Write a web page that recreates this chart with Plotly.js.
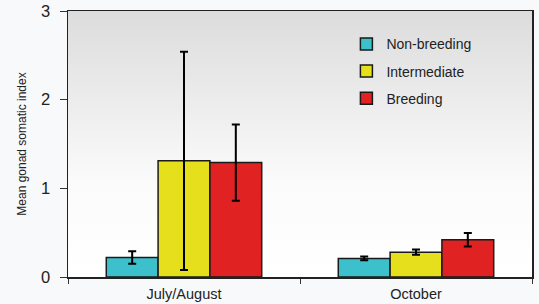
<!DOCTYPE html>
<html>
<head>
<meta charset="utf-8">
<script src="https://cdn.plot.ly/plotly-3.0.1.min.js"></script>
<style>html,body{margin:0;padding:0;background:#f8f9fb;}#chart{width:539px;height:304px;}</style>
</head>
<body>
<div id="chart"></div>
<script>
const categories = ["July/August", "October"];
const seriesNames = ["Non-breeding", "Intermediate", "Breeding"];
const nonBreeding = [0.22, 0.21];
const nonBreedingErr = [0.07, 0.02];
const intermediate = [1.31, 0.28];
const intermediateErr = [1.23, 0.03];
const breeding = [1.29, 0.42];
const breedingErr = [0.43, 0.075];
const colors = ["#3cc0cc", "#e6e01c", "#e02222"];

const values = [nonBreeding, intermediate, breeding];
const errs = [nonBreedingErr, intermediateErr, breedingErr];

const traces = seriesNames.map((name, i) => ({
  type: "bar",
  name: name,
  legendgroup: "g" + i,
  x: categories,
  y: values[i],
  marker: {color: colors[i], line: {color: "#1a1a1a", width: 1.5}},
  error_y: {type: "data", array: errs[i], visible: true, color: "#000", thickness: 2, width: 4}
}));

const svg = '<svg xmlns="http://www.w3.org/2000/svg" width="100" height="100" preserveAspectRatio="none"><defs><linearGradient id="g" x1="0" y1="0" x2="0" y2="1"><stop offset="0" stop-color="#dcdcdc"/><stop offset="0.65" stop-color="#fbfbfb"/><stop offset="1" stop-color="#ffffff"/></linearGradient></defs><rect width="100" height="100" fill="url(#g)"/></svg>';
const bgImg = "data:image/svg+xml;base64," + btoa(svg);

const layout = {
  width: 539, height: 304,
  margin: {l: 68, r: 7, t: 11, b: 27},
  paper_bgcolor: "#f8f9fb",
  plot_bgcolor: "rgba(0,0,0,0)",
  barmode: "group",
  bargap: 0.33,
  bargroupgap: 0,
  font: {family: "Liberation Sans, Arial, sans-serif", color: "#222"},
  showlegend: true,
  legend: {x: 0.6, y: 0.935, xanchor: "left", yanchor: "top", bgcolor: "rgba(0,0,0,0)",
           font: {size: 14, color: "#222"}, traceorder: "grouped", tracegroupgap: 6, itemwidth: 30},
  images: [{source: bgImg, xref: "paper", yref: "paper", x: 0, y: 1, sizex: 1, sizey: 1,
            sizing: "stretch", xanchor: "left", yanchor: "top", layer: "below"}],
  xaxis: {
    showline: true, linecolor: "#222", linewidth: 1.5, mirror: true,
    ticks: "outside", tickson: "boundaries", ticklen: 5, tickcolor: "#333",
    ticklabelstandoff: 3,
    tickfont: {size: 14.5, color: "#222"}, showgrid: false, zeroline: false
  },
  yaxis: {
    range: [0, 3], tickvals: [0, 1, 2, 3], ticktext: ["0", "1", "2", "3"],
    showline: true, linecolor: "#222", linewidth: 1.5, mirror: true,
    ticks: "outside", ticklen: 7, tickcolor: "#333", ticklabelstandoff: 6,
    tickfont: {size: 16.5, color: "#222"}, showgrid: false, zeroline: false,
    title: {text: "Mean gonad somatic index", font: {size: 12, family: "Liberation Sans Narrow, Arial Narrow, sans-serif", color: "#222"}, standoff: 12}
  }
};

Plotly.newPlot("chart", traces, layout, {displayModeBar: false, staticPlot: true});
</script>
</body>
</html>
